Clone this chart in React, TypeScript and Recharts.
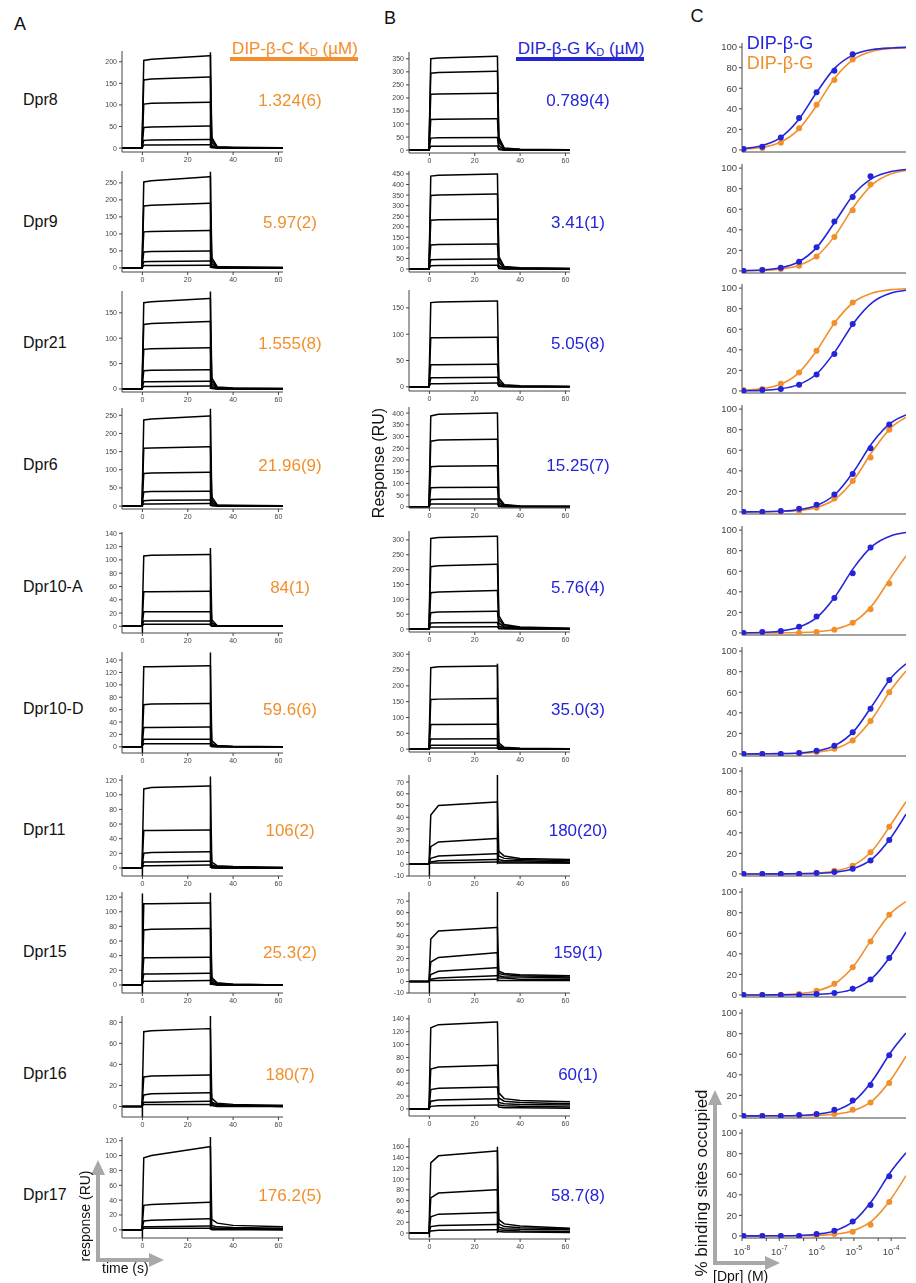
import React from 'react';
import { LineChart, Line, XAxis, YAxis } from 'recharts';

const FONT = '"Liberation Sans", Arial, Helvetica, sans-serif';
const ORANGE = '#f18f2c';
const BLUE = '#2424d8';
const AXIS = '#444';

const dprNames = ['Dpr8', 'Dpr9', 'Dpr21', 'Dpr6', 'Dpr10-A', 'Dpr10-D', 'Dpr11', 'Dpr15', 'Dpr16', 'Dpr17'];
const kdBetaC = ['1.324(6)', '5.97(2)', '1.555(8)', '21.96(9)', '84(1)', '59.6(6)', '106(2)', '25.3(2)', '180(7)', '176.2(5)'];
const kdBetaG = ['0.789(4)', '3.41(1)', '5.05(8)', '15.25(7)', '5.76(4)', '35.0(3)', '180(20)', '159(1)', '60(1)', '58.7(8)'];

// SPR sensorgrams: response (RU) at these times (s), one row per injected concentration
const sprTime = [-9, -0.2, 0.6, 4, 29.5, 30, 30.6, 33, 40, 62];
const sprTimeTicks = [0, 20, 40, 60];

// DIP-beta-C
const sprC_dpr8 = [
  [0, 0, 203, 206, 214, 214, 25, 3, 2, 1],
  [0, 0, 158, 160, 165, 165, 20, 2, 1, 1],
  [0, 0, 102, 104, 106, 106, 13, 2, 1, 0],
  [0, 0, 48, 49, 51, 51, 6, 1, 0, 0],
  [0, 0, 18, 19, 20, 20, 3, 0, 0, 0],
  [0, 0, 7, 7, 8, 8, 1, 0, 0, 0],
];
const sprC_dpr9 = [
  [0, 0, 253, 256, 268, 268, 30, 4, 3, 1],
  [0, 0, 182, 184, 190, 190, 22, 3, 2, 1],
  [0, 0, 106, 107, 110, 110, 13, 2, 1, 0],
  [0, 0, 47, 48, 50, 50, 6, 1, 1, 0],
  [0, 0, 18, 19, 20, 20, 3, 0, 0, 0],
  [0, 0, 7, 7, 8, 8, 1, 0, 0, 0],
];
const sprC_dpr21 = [
  [0, 0, 170, 172, 178, 178, 22, 4, 2, 1],
  [0, 0, 127, 129, 133, 133, 16, 3, 1, 1],
  [0, 0, 78, 79, 81, 81, 10, 2, 1, 0],
  [0, 0, 36, 37, 38, 38, 5, 1, 0, 0],
  [0, 0, 14, 14, 15, 15, 2, 0, 0, 0],
  [0, 0, 5, 5, 6, 6, 1, 0, 0, 0],
];
const sprC_dpr6 = [
  [0, 0, 237, 240, 248, 248, 25, 3, 2, 1],
  [0, 0, 159, 160, 163, 163, 17, 2, 1, 0],
  [0, 0, 90, 91, 93, 93, 10, 1, 1, 0],
  [0, 0, 39, 40, 41, 41, 4, 1, 0, 0],
  [0, 0, 15, 16, 17, 17, 2, 0, 0, 0],
  [0, 0, 6, 6, 7, 7, 1, 0, 0, 0],
];
const sprC_dpr10A = [
  [0, 0, 106, 107, 108, 108, 10, 1, 1, 0],
  [0, 0, 52, 52, 53, 53, 5, 1, 0, 0],
  [0, 0, 22, 22, 22, 22, 2, 0, 0, 0],
  [0, 0, 8, 8, 8, 8, 1, 0, 0, 0],
  [0, 0, 3, 3, 3, 3, 0, 0, 0, 0],
];
const sprC_dpr10D = [
  [0, 0, 129, 129, 131, 131, 10, 2, 1, 0],
  [0, 0, 68, 69, 70, 70, 5, 1, 0, 0],
  [0, 0, 31, 31, 32, 32, 2, 1, 0, 0],
  [0, 0, 12, 12, 12, 12, 1, 0, 0, 0],
  [0, 0, 5, 5, 5, 5, 0, 0, 0, 0],
];
const sprC_dpr11 = [
  [0, 0, 108, 110, 112, 112, 8, 3, 2, 1],
  [0, 0, 51, 51, 52, 52, 4, 2, 1, 0],
  [0, 0, 20, 21, 22, 22, 2, 1, 0, 0],
  [0, 0, 8, 8, 9, 9, 1, 0, 0, 0],
  [0, 0, 3, 3, 4, 4, 0, 0, 0, 0],
];
const sprC_dpr15 = [
  [0, 0, 111, 111, 112, 112, 10, 3, 1, 0],
  [0, 0, 75, 76, 77, 77, 7, 2, 1, 0],
  [0, 0, 37, 37, 38, 38, 4, 1, 0, 0],
  [0, 0, 15, 15, 16, 16, 2, 0, 0, 0],
  [0, 0, 5, 5, 6, 6, 1, 0, 0, 0],
];
const sprC_dpr16 = [
  [0, 0, 71, 72, 74, 74, 8, 3, 2, 1],
  [0, 0, 28, 29, 30, 30, 4, 2, 1, 1],
  [0, 0, 11, 12, 13, 13, 3, 2, 1, 0],
  [0, 0, 4, 4, 5, 5, 2, 1, 1, 0],
  [0, 0, 2, 2, 2, 2, 1, 0, 0, 0],
];
const sprC_dpr17 = [
  [0, 0, 97, 100, 112, 112, 14, 9, 6, 4],
  [0, 0, 33, 34, 37, 37, 6, 4, 3, 2],
  [0, 0, 12, 13, 15, 15, 3, 2, 2, 1],
  [0, 0, 4, 4, 5, 5, 1, 1, 1, 0],
  [0, 0, 2, 2, 2, 2, 0, 0, 0, 0],
];

// DIP-beta-G
const sprG_dpr8 = [
  [0, 0, 350, 353, 360, 360, 50, 8, 3, 1],
  [0, 0, 295, 297, 302, 302, 42, 6, 2, 1],
  [0, 0, 214, 215, 218, 218, 30, 4, 2, 1],
  [0, 0, 117, 118, 120, 120, 16, 2, 1, 0],
  [0, 0, 46, 47, 48, 48, 6, 1, 0, 0],
  [0, 0, 15, 15, 16, 16, 2, 0, 0, 0],
];
const sprG_dpr9 = [
  [0, 0, 440, 444, 450, 450, 60, 12, 6, 3],
  [0, 0, 348, 350, 355, 355, 48, 9, 5, 2],
  [0, 0, 231, 233, 236, 236, 32, 6, 3, 1],
  [0, 0, 114, 116, 118, 118, 16, 3, 2, 1],
  [0, 0, 44, 45, 47, 47, 6, 1, 1, 0],
  [0, 0, 16, 17, 18, 18, 2, 0, 0, 0],
];
const sprG_dpr21 = [
  [0, 0, 160, 161, 163, 163, 16, 4, 2, 1],
  [0, 0, 93, 93, 94, 94, 10, 2, 1, 0],
  [0, 0, 42, 42, 43, 43, 5, 1, 0, 0],
  [0, 0, 17, 17, 18, 18, 2, 1, 0, 0],
  [0, 0, 6, 6, 7, 7, 1, 0, 0, 0],
];
const sprG_dpr6 = [
  [0, 0, 388, 395, 400, 400, 40, 10, 4, 2],
  [0, 0, 280, 285, 288, 288, 30, 7, 3, 1],
  [0, 0, 171, 173, 175, 175, 18, 4, 2, 1],
  [0, 0, 81, 82, 84, 84, 9, 2, 1, 0],
  [0, 0, 31, 32, 33, 33, 3, 1, 0, 0],
  [0, 0, 12, 12, 12, 12, 1, 0, 0, 0],
];
const sprG_dpr10A = [
  [0, 0, 305, 308, 312, 312, 45, 15, 7, 3],
  [0, 0, 210, 213, 218, 218, 32, 11, 5, 2],
  [0, 0, 122, 125, 130, 130, 20, 7, 3, 1],
  [0, 0, 55, 57, 60, 60, 10, 4, 2, 1],
  [0, 0, 20, 21, 22, 22, 4, 2, 1, 0],
  [0, 0, 7, 7, 8, 8, 1, 1, 0, 0],
];
const sprG_dpr10D = [
  [0, 0, 257, 260, 263, 263, 20, 6, 3, 1],
  [0, 0, 157, 158, 160, 160, 12, 4, 2, 1],
  [0, 0, 78, 78, 79, 79, 6, 2, 1, 0],
  [0, 0, 32, 32, 33, 33, 3, 1, 0, 0],
  [0, 0, 12, 12, 12, 12, 1, 0, 0, 0],
  [0, 0, 4, 4, 4, 4, 0, 0, 0, 0],
];
const sprG_dpr11 = [
  [0, 0, 42, 50, 53, 53, 11, 7, 5, 4],
  [0, 0, 15, 19, 22, 22, 7, 5, 4, 3],
  [0, 0, 5, 7, 9, 9, 4, 3, 3, 2],
  [0, 0, 2, 3, 4, 4, 2, 2, 2, 1],
  [0, 0, 1, 1, 2, 2, 1, 1, 1, 1],
];
const sprG_dpr15 = [
  [0, 0, 37, 44, 47, 47, 9, 7, 6, 5],
  [0, 0, 17, 21, 25, 25, 7, 6, 5, 4],
  [0, 0, 6, 9, 12, 12, 5, 4, 4, 3],
  [0, 0, 2, 3, 5, 5, 3, 3, 2, 2],
  [0, 0, 1, 1, 2, 2, 1, 1, 1, 1],
];
const sprG_dpr16 = [
  [0, 0, 126, 131, 135, 135, 25, 16, 13, 11],
  [0, 0, 62, 65, 68, 68, 17, 12, 10, 8],
  [0, 0, 30, 32, 34, 34, 10, 8, 7, 6],
  [0, 0, 12, 14, 16, 16, 6, 5, 4, 3],
  [0, 0, 4, 5, 6, 6, 3, 2, 2, 1],
];
const sprG_dpr17 = [
  [0, 0, 130, 143, 152, 152, 25, 17, 13, 9],
  [0, 0, 65, 74, 80, 80, 17, 12, 10, 8],
  [0, 0, 30, 35, 38, 38, 11, 8, 7, 6],
  [0, 0, 12, 14, 16, 16, 6, 5, 4, 3],
  [0, 0, 4, 5, 6, 6, 3, 2, 2, 1],
];

const sprBetaC = [sprC_dpr8, sprC_dpr9, sprC_dpr21, sprC_dpr6, sprC_dpr10A, sprC_dpr10D, sprC_dpr11, sprC_dpr15, sprC_dpr16, sprC_dpr17];
const sprBetaG = [sprG_dpr8, sprG_dpr9, sprG_dpr21, sprG_dpr6, sprG_dpr10A, sprG_dpr10D, sprG_dpr11, sprG_dpr15, sprG_dpr16, sprG_dpr17];

// injection artefacts: [low at t=0, top at t=0, high at t=30]
const spikeBetaC = [
  [null, null, 222], [null, null, 283], [null, null, 192], [null, null, 268], [-10, 0, 118],
  [-10, 0, 152], [-11, 0, 125], [-11, 125, 126], [-10, 0, 86], [-11, 0, 125],
];
const spikeBetaG = [
  [null, null, null], [null, null, null], [null, null, null], [null, null, null], [null, null, null],
  [null, null, 270], [-10, 0, 76], [-10, 0, 78], [null, null, null], [-8, 0, 160],
];

const ticksA = [
  [0, 50, 100, 150, 200], [0, 50, 100, 150, 200, 250], [0, 50, 100, 150], [0, 50, 100, 150, 200, 250],
  [0, 20, 40, 60, 80, 100, 120, 140], [0, 20, 40, 60, 80, 100, 120, 140], [0, 20, 40, 60, 80, 100, 120],
  [0, 20, 40, 60, 80, 100, 120], [0, 20, 40, 60, 80], [0, 20, 40, 60, 80, 100, 120],
];
const domA = [[-9, 225], [-12, 285], [-6, 193], [-8, 270], [-10, 142], [-10, 153], [-11, 127], [-11, 127], [-10, 86], [-11, 125]];
const ticksB = [
  [0, 50, 100, 150, 200, 250, 300, 350], [0, 50, 100, 150, 200, 250, 300, 350, 400, 450], [0, 50, 100, 150],
  [0, 50, 100, 150, 200, 250, 300, 350, 400], [0, 50, 100, 150, 200, 250, 300], [0, 50, 100, 150, 200, 250, 300],
  [-10, 0, 10, 20, 30, 40, 50, 60, 70], [-10, 0, 10, 20, 30, 40, 50, 60, 70], [0, 20, 40, 60, 80, 100, 120, 140],
  [0, 20, 40, 60, 80, 100, 120, 140, 160],
];
const domB = [[-11, 376], [-14, 464], [-8, 184], [-5, 426], [-10, 330], [-9, 310], [-10, 76], [-10, 78], [-11, 146], [-11, 176]];

// equilibrium binding (% binding sites occupied)
const concPoints = [1.1e-8, 3.5e-8, 1.1e-7, 3.4e-7, 1.0e-6, 3.0e-6, 9.3e-6, 2.8e-5, 8.9e-5];
const concCurve = [1e-8, 3.16e-8, 1e-7, 3.16e-7, 1e-6, 3.16e-6, 1e-5, 3.16e-5, 1e-4, 2.5e-4];
const concTicks = [1e-8, 4.5e-8, 1e-7, 4.5e-7, 1e-6, 4.5e-6, 1e-5, 4.5e-5, 1e-4];

const pointsG = [
  [1, 3, 12, 31, 56, 77, 93],
  [0, 1, 3, 9, 23, 48, 72, 92],
  [0, 1, 2, 6, 16, 36, 65],
  [0, 0, 1, 3, 7, 17, 37, 62, 85],
  [0, 1, 2, 6, 16, 34, 58, 83],
  [0, 0, 0, 1, 3, 8, 21, 44, 72],
  [0, 0, 0, 0, 1, 2, 5, 13, 33],
  [0, 0, 0, 0, 1, 2, 6, 15, 36],
  [0, 0, 0, 1, 2, 6, 15, 30, 59],
  [0, 0, 0, 0, 2, 5, 14, 30, 58],
];
const pointsC = [
  [1, 2, 7, 21, 44, 68, 88],
  [0, 1, 2, 5, 14, 33, 59, 84],
  [1, 2, 7, 18, 39, 66, 86],
  [0, 0, 0, 1, 4, 13, 30, 53, 80],
  [0, 0, 0, 0, 1, 3, 10, 23, 48],
  [0, 0, 0, 1, 2, 5, 13, 32, 60],
  [0, 0, 0, 0, 1, 3, 8, 21, 46],
  [0, 0, 0, 1, 4, 11, 27, 52, 78],
  [0, 0, 0, 0, 1, 2, 6, 13, 32],
  [0, 0, 0, 0, 0, 2, 4, 11, 33],
];
const curveG = [
  [1.3, 3.9, 11.2, 28.6, 55.9, 80.0, 92.7, 97.6, 99.2, 99.7],
  [0.3, 0.9, 2.8, 8.5, 22.7, 48.1, 74.6, 90.3, 96.7, 98.7],
  [0.2, 0.6, 1.9, 5.9, 16.5, 38.5, 66.4, 86.2, 95.2, 98.0],
  [0.1, 0.2, 0.7, 2.0, 6.2, 17.2, 39.6, 67.5, 86.8, 94.3],
  [0.2, 0.5, 1.7, 5.2, 14.8, 35.4, 63.5, 84.6, 94.6, 97.7],
  [0, 0.1, 0.3, 0.9, 2.8, 8.3, 22.2, 47.4, 74.1, 87.7],
  [0, 0, 0.1, 0.2, 0.6, 1.7, 5.3, 14.9, 35.7, 58.1],
  [0, 0, 0.1, 0.2, 0.6, 1.9, 5.9, 16.6, 38.6, 61.1],
  [0, 0.1, 0.2, 0.5, 1.6, 5.0, 14.3, 34.5, 62.5, 80.6],
  [0, 0.1, 0.2, 0.5, 1.7, 5.1, 14.6, 35.0, 63.0, 81.0],
];
const curveC = [
  [0.8, 2.3, 7.0, 19.3, 43.0, 70.5, 88.3, 96.0, 98.7, 99.5],
  [0.2, 0.5, 1.6, 5.0, 14.3, 34.6, 62.6, 84.1, 94.4, 97.7],
  [0.6, 2.0, 6.0, 16.9, 39.1, 67.0, 86.5, 95.3, 98.5, 99.4],
  [0, 0.1, 0.5, 1.4, 4.4, 12.6, 31.3, 59.0, 82.0, 91.9],
  [0, 0, 0.1, 0.4, 1.2, 3.6, 10.6, 27.3, 54.3, 74.9],
  [0, 0.1, 0.2, 0.5, 1.6, 5.0, 14.4, 34.7, 62.7, 80.7],
  [0, 0, 0.1, 0.3, 0.9, 2.9, 8.6, 23.0, 48.5, 70.2],
  [0, 0.1, 0.4, 1.2, 3.8, 11.1, 28.3, 55.5, 79.8, 90.8],
  [0, 0, 0.1, 0.2, 0.6, 1.7, 5.3, 14.9, 35.7, 58.1],
  [0, 0, 0.1, 0.2, 0.6, 1.8, 5.4, 15.2, 36.2, 58.7],
];
const percentTicks = [0, 20, 40, 60, 80, 100];

// layout
const rowY = (i: number) => 100 + 121.7 * i;
const axisYA = [152, 272, 392, 509, 633, 753, 876, 993, 1117, 1238];
const axisYB = [153, 272, 391, 508, 632, 752, 876, 993, 1116, 1239];
const topC = (i: number) => 47 + 120.7 * i - 4;

type SprProps = {
  left: number; axisY: number; traces: number[][]; domain: number[]; ticks: number[]; spike: (number | null)[];
};

const Sensorgram = ({ left, axisY, traces, domain, ticks, spike }: SprProps) => {
  const plotH = 101, plotW = 161, yw = 30, xh = 18;
  const data = sprTime.map((t, i) => {
    const row: Record<string, number> = { t };
    traces.forEach((tr, k) => { row['r' + k] = tr[i]; });
    return row;
  });
  const spikeData = [
    { t: 0, v: spike[0] }, { t: 0, v: spike[1] }, { t: 15, v: null },
    { t: 30, v: spike[2] === null ? null : 0 }, { t: 30, v: spike[2] },
  ];
  const tickStyle = { fontSize: 7, fill: AXIS, fontFamily: FONT };
  return (
    <div style={{ position: 'absolute', left: left - yw, top: axisY - plotH - 2, willChange: 'transform' }}>
      <LineChart width={yw + plotW + 2} height={plotH + 2 + xh} data={data}
        margin={{ top: 2, right: 2, bottom: 0, left: 0 }}>
        <XAxis type="number" dataKey="t" domain={[-9, 62]} ticks={sprTimeTicks} allowDataOverflow
          height={xh} tick={tickStyle} tickSize={3} stroke={AXIS} interval={0} />
        <YAxis type="number" domain={domain} ticks={ticks} allowDataOverflow width={yw}
          tick={tickStyle} tickSize={3} stroke={AXIS} interval={0} />
        {traces.map((_, k) => (
          <Line key={k} type="linear" dataKey={'r' + k} stroke="#000" strokeWidth={1.5}
            dot={false} activeDot={false} isAnimationActive={false} />
        ))}
        <Line data={spikeData} type="linear" dataKey="v" stroke="#000" strokeWidth={1.5}
          dot={false} activeDot={false} connectNulls={false} isAnimationActive={false} />
      </LineChart>
    </div>
  );
};

const LogTick = (props: any) => {
  const { x, y, payload } = props;
  const lg = Math.log10(payload.value);
  const e = Math.round(lg);
  if (Math.abs(lg - e) > 0.01) return <g />;
  return (
    <text x={x} y={y + 12} textAnchor="middle" fontSize={9.5} fill={AXIS} fontFamily={FONT}>
      10<tspan dy={-5} fontSize={7}>{String(e)}</tspan>
    </text>
  );
};

const Binding = ({ idx, last }: { idx: number; last: boolean }) => {
  const plotH = 109, plotW = 164, yw = 30, xh = last ? 24 : 6;
  const curveDataG = concCurve.map((c, i) => ({ c, v: curveG[idx][i] }));
  const curveDataC = concCurve.map((c, i) => ({ c, v: curveC[idx][i] }));
  const ptsG = pointsG[idx].map((v, i) => ({ c: concPoints[i], v }));
  const ptsC = pointsC[idx].map((v, i) => ({ c: concPoints[i], v }));
  return (
    <div style={{ position: 'absolute', left: 742 - yw, top: topC(idx) - 2, willChange: 'transform' }}>
      <LineChart width={yw + plotW + 4} height={plotH + 2 + xh} margin={{ top: 2, right: 4, bottom: 0, left: 0 }}>
        <XAxis type="number" dataKey="c" scale="log" domain={[1e-8, 2.5e-4]} ticks={concTicks}
          allowDataOverflow height={xh} interval={0} tickSize={3} stroke={AXIS}
          tick={last ? (p: any) => <LogTick {...p} /> : false} />
        <YAxis type="number" domain={[-2, 104]} ticks={percentTicks} allowDataOverflow width={yw}
          tick={{ fontSize: 9.5, fill: AXIS, fontFamily: FONT }} tickSize={3} stroke={AXIS} interval={0} />
        <Line data={curveDataC} type="monotone" dataKey="v" stroke={ORANGE} strokeWidth={1.6}
          dot={false} activeDot={false} isAnimationActive={false} />
        <Line data={curveDataG} type="monotone" dataKey="v" stroke={BLUE} strokeWidth={1.6}
          dot={false} activeDot={false} isAnimationActive={false} />
        <Line data={ptsC} dataKey="v" stroke="none" dot={{ r: 3, fill: ORANGE, stroke: ORANGE, strokeWidth: 0 }}
          activeDot={false} isAnimationActive={false} />
        <Line data={ptsG} dataKey="v" stroke="none" dot={{ r: 3, fill: BLUE, stroke: BLUE, strokeWidth: 0 }}
          activeDot={false} isAnimationActive={false} />
      </LineChart>
    </div>
  );
};

const Txt = ({ x, y, children, size = 16, color = '#111', align = 'center', rotate = 0 }: any) => {
  const tx = align === 'center' ? '-50%' : '0';
  return (
    <div style={{
      position: 'absolute', left: x, top: y, fontFamily: FONT, fontSize: size, color, whiteSpace: 'nowrap',
      lineHeight: 1, transform: `translate(${tx}, -50%) rotate(${rotate}deg)`,
      transformOrigin: align === 'center' ? '50% 50%' : '0 50%',
    }}>{children}</div>
  );
};

const Sub = ({ children }: any) => (
  <span style={{ fontSize: '0.65em', verticalAlign: '-0.25em' }}>{children}</span>
);

export default function App() {
  const gray = '#a8a8a8';
  return (
    <div style={{ position: 'absolute', left: 0, top: 0, width: 916, height: 1283, background: '#fff', overflow: 'hidden' }}>
      <Txt x={20} y={24} size={18}>A</Txt>
      <Txt x={390} y={18} size={18}>B</Txt>
      <Txt x={697} y={16} size={18}>C</Txt>

      <Txt x={295} y={49} size={17} color={ORANGE}>DIP-β-C K<Sub>D</Sub> (µM)</Txt>
      <div style={{ position: 'absolute', left: 230, top: 57, width: 128, height: 4, background: ORANGE }} />
      <Txt x={581} y={49} size={17} color={BLUE}>DIP-β-G K<Sub>D</Sub> (µM)</Txt>
      <div style={{ position: 'absolute', left: 516, top: 57, width: 128, height: 4, background: BLUE }} />

      {dprNames.map((n, i) => (
        <React.Fragment key={n}>
          <Sensorgram left={122} axisY={axisYA[i]} traces={sprBetaC[i]} domain={domA[i]} ticks={ticksA[i]} spike={spikeBetaC[i]} />
          <Sensorgram left={409} axisY={axisYB[i]} traces={sprBetaG[i]} domain={domB[i]} ticks={ticksB[i]} spike={spikeBetaG[i]} />
          <Binding idx={i} last={i === dprNames.length - 1} />
          <Txt x={23} y={rowY(i)} size={16} align="left">{n}</Txt>
          <Txt x={290} y={rowY(i)} size={17} color={ORANGE}>{kdBetaC[i]}</Txt>
          <Txt x={578} y={rowY(i)} size={17} color={BLUE}>{kdBetaG[i]}</Txt>
        </React.Fragment>
      ))}

      <Txt x={780} y={43} size={18} color={BLUE}>DIP-β-G</Txt>
      <Txt x={780} y={63} size={18} color={ORANGE}>DIP-β-G</Txt>

      <Txt x={379} y={463} size={16} rotate={-90}>Response (RU)</Txt>

      <svg width={916} height={1283} style={{ position: 'absolute', left: 0, top: 0, pointerEvents: 'none' }}>
        <line x1={98} y1={1262} x2={98} y2={1172} stroke={gray} strokeWidth={4} />
        <polygon points="98,1160 91,1175 105,1175" fill={gray} />
        <line x1={96} y1={1260} x2={150} y2={1260} stroke={gray} strokeWidth={4} />
        <polygon points="164,1260 149,1253 149,1267" fill={gray} />
        <line x1={715} y1={1265} x2={715} y2={1102} stroke={gray} strokeWidth={4} />
        <polygon points="715,1090 708,1105 722,1105" fill={gray} />
        <line x1={713} y1={1263} x2={766} y2={1263} stroke={gray} strokeWidth={4} />
        <polygon points="780,1263 765,1256 765,1270" fill={gray} />
      </svg>
      <Txt x={85} y={1216} size={14} rotate={-90}>response (RU)</Txt>
      <Txt x={102} y={1268} size={14} align="left">time (s)</Txt>
      <Txt x={701} y={1183} size={17} rotate={-90}>% binding sites occupied</Txt>
      <Txt x={713} y={1276} size={14} align="left">[Dpr] (M)</Txt>
    </div>
  );
}
